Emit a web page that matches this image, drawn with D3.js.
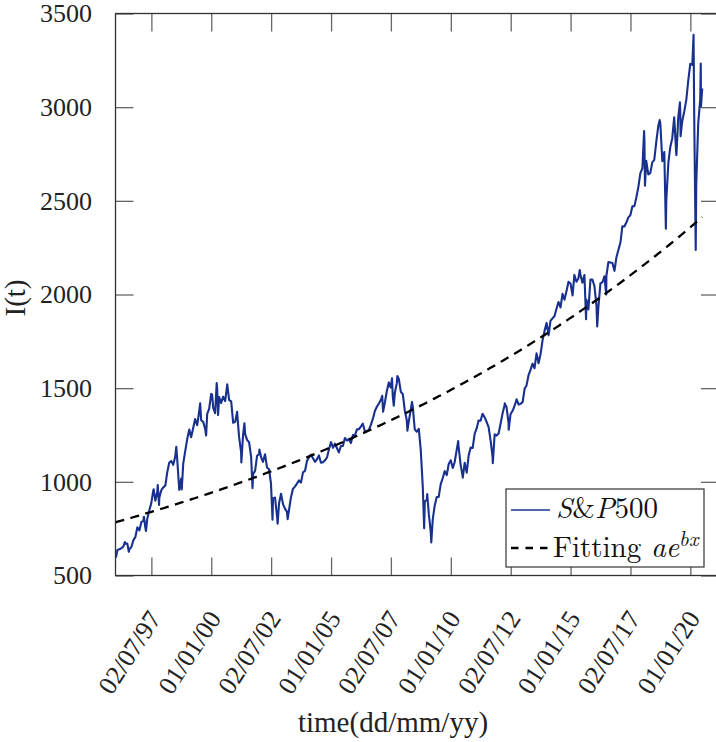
<!DOCTYPE html>
<html><head><meta charset="utf-8">
<script src="https://cdn.jsdelivr.net/npm/d3@7"></script>
<style>
body{margin:0;background:#fff}
svg{display:block}
</style>
</head><body><svg id="c" width="716" height="742"></svg>
<script>
// ---------- DATA ----------
const seriesStart = "1996-01-02";
const seriesStartValue = 620.73;
// S&P500 month-end closes, Jan 1996 .. Jun 2020
const monthlyClose = [
 636.0,640.4,645.5,654.2,669.1,670.6,639.9,652.0,687.3,705.3,757.0,740.7,      // 1996
 786.2,790.8,757.1,801.3,848.3,885.1,954.3,899.5,947.3,914.6,955.4,970.4,      // 1997
 980.3,1049.3,1101.8,1111.8,1090.8,1133.8,1120.7,957.3,1017.0,1098.7,1163.6,1229.2, // 1998
 1279.6,1238.3,1286.4,1335.2,1301.8,1372.7,1328.7,1320.4,1282.7,1362.9,1388.9,1469.3, // 1999
 1394.5,1366.4,1498.6,1452.4,1420.6,1454.6,1430.8,1517.7,1436.5,1429.4,1315.2,1320.3, // 2000
 1366.0,1239.9,1160.3,1249.5,1255.8,1224.4,1211.2,1133.6,1040.9,1059.8,1139.5,1148.1, // 2001
 1130.2,1106.7,1147.4,1076.9,1067.1,989.8,911.6,916.1,815.3,885.8,936.3,879.8,  // 2002
 855.7,841.2,848.2,916.9,963.6,974.5,990.3,1008.0,996.0,1050.7,1058.2,1111.9,   // 2003
 1131.1,1144.9,1126.2,1107.3,1120.7,1140.8,1101.7,1104.2,1114.6,1130.2,1173.8,1211.9, // 2004
 1181.3,1203.6,1180.6,1156.9,1191.5,1191.3,1234.2,1220.3,1228.8,1207.0,1249.5,1248.3, // 2005
 1280.1,1280.7,1294.9,1310.6,1270.1,1270.2,1276.7,1303.8,1335.9,1377.9,1400.6,1418.3, // 2006
 1438.2,1406.8,1420.9,1482.4,1530.6,1503.4,1455.3,1474.0,1526.8,1549.4,1481.1,1468.4, // 2007
 1378.6,1330.6,1322.7,1385.6,1400.4,1280.0,1267.4,1282.8,1166.4,968.8,896.2,903.3,    // 2008
 825.9,735.1,797.9,872.8,919.1,919.3,987.5,1020.6,1057.1,1036.2,1095.6,1115.1,        // 2009
 1073.9,1104.5,1169.4,1186.7,1089.4,1030.7,1101.6,1049.3,1141.2,1183.3,1180.6,1257.6, // 2010
 1286.1,1327.2,1325.8,1363.6,1345.2,1320.6,1292.3,1218.9,1131.4,1253.3,1247.0,1257.6, // 2011
 1312.4,1365.7,1408.5,1397.9,1310.3,1362.2,1379.3,1406.6,1440.7,1412.2,1416.2,1426.2, // 2012
 1498.1,1514.7,1569.2,1597.6,1630.7,1606.3,1685.7,1633.0,1681.6,1756.5,1805.8,1848.4, // 2013
 1782.6,1859.5,1872.3,1884.0,1923.6,1960.2,1930.7,2003.4,1972.3,2018.1,2067.6,2058.9, // 2014
 1995.0,2104.5,2067.9,2085.5,2107.4,2063.1,2103.8,1972.2,1920.0,2079.4,2080.4,2043.9, // 2015
 1940.2,1932.2,2059.7,2065.3,2096.9,2098.9,2173.6,2171.0,2168.3,2126.2,2198.8,2238.8, // 2016
 2278.9,2363.6,2362.7,2384.2,2411.8,2423.4,2470.3,2471.7,2519.4,2575.3,2647.6,2673.6, // 2017
 2823.8,2713.8,2640.9,2648.1,2705.3,2718.4,2816.3,2901.5,2914.0,2711.7,2760.2,2506.9, // 2018
 2704.1,2784.5,2834.4,2945.8,2752.1,2941.8,2980.4,2926.5,2976.7,3037.6,3141.0,3230.8, // 2019
 3225.5,2954.2,2584.6,2912.4,3044.3,3100.3                                            // 2020
];
// intra-month extremes visible in the picture
const extremeDates = [
 "1996-01-10","1996-05-24","1996-07-23","1997-03-11","1997-04-11","1997-08-06","1997-10-07","1997-10-27",
 "1998-07-17","1998-10-08","1999-07-16","1999-10-15","2000-01-14","2000-03-24","2000-04-14","2000-09-01",
 "2001-01-30","2001-04-04","2001-05-21","2001-09-21","2002-01-04","2002-07-23","2002-10-09","2003-03-11",
 "2007-02-20","2007-03-05","2007-07-19","2007-08-15","2007-10-09","2008-03-10","2008-05-19","2008-11-20",
 "2009-01-06","2009-03-09","2010-04-23","2010-07-02","2011-04-29","2011-10-03","2012-04-02","2012-06-01",
 "2015-05-21","2015-08-25","2016-02-11","2016-06-27","2018-01-26","2018-02-08","2018-09-20","2018-12-24",
 "2019-06-03","2019-07-26","2019-08-05","2020-02-19","2020-03-23","2020-06-08","2020-06-11"
];
const extremeValues = [
 598.5,678.5,626.9,813.7,737.7,960.3,983.1,877.0,
 1186.8,959.4,1418.8,1247.4,1465.2,1527.5,1356.6,1520.8,
 1373.7,1103.3,1312.8,965.8,1172.5,797.7,776.8,800.7,
 1459.7,1374.1,1553.1,1406.7,1565.2,1273.4,1426.6,752.4,
 934.7,676.5,1217.3,1022.6,1363.6,1099.2,1419.0,1278.0,
 2130.8,1867.6,1829.1,2000.5,2872.9,2581.0,2930.8,2351.1,
 2744.5,3025.9,2844.7,3386.2,2237.4,3232.4,3002.1
];
const seriesEnd = "2020-06-30";
const fitA = 784;       // value of the fit at series start
const fitB = 0.0459;    // growth rate per year
const xTickDates = ["1997-07-02","2000-01-01","2002-07-02","2005-01-01","2007-07-02",
                    "2010-01-01","2012-07-02","2015-01-01","2017-07-02","2020-01-01"];
const yTicks = [500,1000,1500,2000,2500,3000,3500];
const axisDomainX = ["1996-01-02","2021-03-13"];
const axisDomainY = [500,3500];

// ---------- BUILD ----------
const FONT = '"Liberation Serif"';
const LFONT = '"Latin Modern Roman"';
const parse = d3.timeParse("%Y-%m-%d");
const fmt = d3.timeFormat("%d/%m/%y");
let pts = [{d: parse(seriesStart), v: seriesStartValue}];
monthlyClose.forEach((v,i)=>{
  const yy = 1996 + Math.floor(i/12), m = i%12;
  pts.push({d: new Date(yy, m+1, 0), v});
});
extremeDates.forEach((s,i)=>pts.push({d: parse(s), v: extremeValues[i]}));
pts.sort((a,b)=>a.d-b.d);

const L=115.5, R=719, T=13.5, B=575.5;
const svg = d3.select("#c");
const x = d3.scaleTime().domain(axisDomainX.map(parse)).range([L,R]);
const y = d3.scaleLinear().domain(axisDomainY).range([B,T]);

svg.append("defs").append("clipPath").attr("id","clip")
  .append("rect").attr("x",L).attr("y",T).attr("width",R-L).attr("height",B-T);

const t0 = parse(seriesStart), t1 = parse(seriesEnd);
const fitPts = d3.range(0,201).map(i=>{
  const d = new Date(+t0 + (t1-t0)*i/200);
  const yrs = (d-t0)/(365.25*864e5);
  return {d, v: fitA*Math.exp(fitB*yrs)};
});

const line = d3.line().x(p=>x(p.d)).y(p=>y(p.v));
const g = svg.append("g").attr("clip-path","url(#clip)");
g.append("path").datum(pts).attr("d",line)
  .attr("fill","none").attr("stroke","#18308e").attr("stroke-width",2.1)
  .attr("stroke-linejoin","round");
g.append("path").datum(fitPts).attr("d",line)
  .attr("fill","none").attr("stroke","#000").attr("stroke-width",2.3)
  .attr("stroke-dasharray","9,6.5");

const tickCol = "#666";
const xb = svg.append("g").attr("transform",`translate(0,${B})`)
  .call(d3.axisBottom(x).tickValues(xTickDates.map(parse)).tickFormat(fmt).tickSize(-18));
const xt = svg.append("g").attr("transform",`translate(0,${T})`)
  .call(d3.axisTop(x).tickValues(xTickDates.map(parse)).tickFormat("").tickSize(-18));
const yl = svg.append("g").attr("transform",`translate(${L},0)`)
  .call(d3.axisLeft(y).tickValues(yTicks).tickFormat(d3.format("d")).tickSize(-18).tickPadding(23.5));
const yr = svg.append("g").attr("transform",`translate(${R},0)`)
  .call(d3.axisRight(y).tickValues(yTicks).tickFormat("").tickSize(-18));
[xb,xt,yl,yr].forEach(a=>{
  a.attr("font-family",null).attr("font-size",null);
  a.select(".domain").remove();
  a.selectAll(".tick line").attr("stroke",tickCol).attr("stroke-width",1.3);
});
yl.selectAll("text").style("font-family",FONT).style("font-size","26px").attr("fill","#222");
xb.selectAll("text")
  .style("font-family",FONT).style("font-size","26px").attr("fill","#222")
  .attr("text-anchor","middle").attr("dy",null).attr("y",null)
  .attr("dominant-baseline","central")
  .attr("transform","translate(-22,77) rotate(-57)");

svg.append("rect").attr("x",L).attr("y",T).attr("width",R-L).attr("height",B-T)
  .attr("fill","none").attr("stroke","#333").attr("stroke-width",1.3);

svg.append("text").attr("x",393).attr("y",732).attr("text-anchor","middle")
  .style("font-family",FONT).style("font-size","29px").attr("fill","#222").text("time(dd/mm/yy)");
svg.append("text").attr("transform","translate(25,298) rotate(-90)").attr("text-anchor","middle")
  .style("font-family",FONT).style("font-size","29px").attr("fill","#222").text("I(t)");

const lg = svg.append("g");
lg.append("rect").attr("x",506).attr("y",489).attr("width",198).attr("height",78)
  .attr("fill","#fff").attr("stroke","#333").attr("stroke-width",1.2);
lg.append("line").attr("x1",511).attr("x2",550).attr("y1",510).attr("y2",510)
  .attr("stroke","#18308e").attr("stroke-width",1.3);
const t1x = lg.append("text").attr("x",556).attr("y",518)
  .style("font-family",LFONT).style("font-size","29px").attr("fill","#111");
t1x.append("tspan").style("font-style","italic").text("S");
t1x.append("tspan").text("&");
t1x.append("tspan").style("font-style","italic").text("P");
t1x.append("tspan").text("500");
lg.append("line").attr("x1",511).attr("x2",550).attr("y1",548).attr("y2",548)
  .attr("stroke","#000").attr("stroke-width",2.3).attr("stroke-dasharray","7.5,7");
const t2x = lg.append("text").attr("x",553).attr("y",557)
  .style("font-family",LFONT).style("font-size","29px").attr("fill","#111");
t2x.append("tspan").text("Fitting ");
t2x.append("tspan").style("font-style","italic").text("ae");
t2x.append("tspan").style("font-style","italic").attr("dy",-11).style("font-size","21px").text("bx");
</script>
</body></html>
